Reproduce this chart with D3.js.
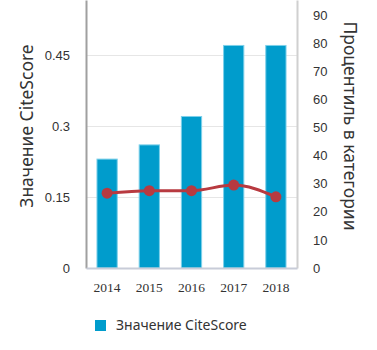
<!DOCTYPE html>
<html>
<head>
<meta charset="utf-8">
<script src="https://cdn.jsdelivr.net/npm/d3@7"></script>
<style>
  body { margin: 0; background: #fff; }
  svg { display: block; font-family: "Noto Sans", "Open Sans", sans-serif; }
</style>
</head>
<body>
<div id="chart"></div>
<script>
// данные графика
var years = ["2014", "2015", "2016", "2017", "2018"];
var citeScore = [0.23, 0.26, 0.32, 0.47, 0.47];
var percentile = [26.6, 27.5, 27.5, 29.5, 25.3];
var leftTicks = [0, 0.15, 0.3, 0.45];
var rightTicks = [0, 10, 20, 30, 40, 50, 60, 70, 80, 90];

var width = 377, height = 350;
var plot = { left: 86, right: 297, top: 0, bottom: 268 };

var svg = d3.select("#chart").append("svg")
    .attr("width", width)
    .attr("height", height);

var x = d3.scaleBand()
    .domain(years)
    .range([plot.left, plot.right])
    .paddingInner(0.52)
    .paddingOuter(0.26);

var yLeft = d3.scaleLinear().domain([0, 0.566]).range([plot.bottom, plot.top]);
var yRight = d3.scaleLinear().domain([0, 95.3]).range([plot.bottom, plot.top]);

// сетка
svg.append("g").selectAll("line")
    .data(leftTicks.filter(function (d) { return d > 0; }))
    .enter().append("line")
    .attr("x1", plot.left).attr("x2", plot.right)
    .attr("y1", function (d) { return Math.round(yLeft(d)) + 0.5; })
    .attr("y2", function (d) { return Math.round(yLeft(d)) + 0.5; })
    .attr("stroke", "#e6e6e6");

// столбцы
svg.append("g").selectAll("rect")
    .data(citeScore)
    .enter().append("rect")
    .attr("x", function (d, i) { return x(years[i]); })
    .attr("width", x.bandwidth())
    .attr("y", function (d) { return yLeft(d); })
    .attr("height", function (d) { return plot.bottom - yLeft(d); })
    .attr("fill", "#009ccc")
    .attr("stroke", "#7dd0ea")
    .attr("stroke-width", 1);

// оси
var leftAxis = svg.append("g")
    .attr("transform", "translate(" + plot.left + ",0)")
    .call(d3.axisLeft(yLeft).tickValues(leftTicks).tickSize(0).tickPadding(16)
        .tickFormat(function (d) { return d === 0 ? "0" : d3.format("")(d); }));
leftAxis.select(".domain").attr("stroke", "#a0a0a0").attr("stroke-width", 2);

var rightAxis = svg.append("g")
    .attr("transform", "translate(" + plot.right + ",0)")
    .call(d3.axisRight(yRight).tickValues(rightTicks).tickSize(0).tickPadding(16));
rightAxis.select(".domain").attr("stroke", "#d0d0d0").attr("stroke-width", 2);

var bottomAxis = svg.append("g")
    .attr("transform", "translate(0," + plot.bottom + ")")
    .call(d3.axisBottom(x).tickSize(0).tickPadding(14));
bottomAxis.select(".domain").attr("stroke", "#c8ccd8").attr("stroke-width", 2);

svg.selectAll(".tick text")
    .attr("fill", "#333")
    .style("font-size", "13px");
bottomAxis.selectAll("text")
    .style("font-family", "'Liberation Serif', 'DejaVu Serif', serif")
    .style("font-size", "13.5px");

// линия процентиля
var line = d3.line()
    .x(function (d, i) { return x(years[i]) + x.bandwidth() / 2; })
    .y(function (d) { return yRight(d); })
    .curve(d3.curveMonotoneX);

svg.append("path")
    .datum(percentile)
    .attr("d", line)
    .attr("fill", "none")
    .attr("stroke", "#b83a40")
    .attr("stroke-width", 3);

svg.append("g").selectAll("circle")
    .data(percentile)
    .enter().append("circle")
    .attr("cx", function (d, i) { return x(years[i]) + x.bandwidth() / 2; })
    .attr("cy", function (d) { return yRight(d); })
    .attr("r", 5.5)
    .attr("fill", "#b83a40");

// подписи осей
svg.append("text")
    .attr("transform", "translate(33,126) rotate(-90)")
    .attr("text-anchor", "middle")
    .attr("fill", "#333")
    .style("font-size", "17.5px")
    .text("Значение CiteScore");

svg.append("text")
    .attr("transform", "translate(344,126) rotate(90)")
    .attr("text-anchor", "middle")
    .attr("fill", "#333")
    .style("font-size", "17.5px")
    .text("Процентиль в категории");

// легенда
svg.append("rect")
    .attr("x", 95).attr("y", 320)
    .attr("width", 11).attr("height", 11)
    .attr("fill", "#009ccc");

svg.append("text")
    .attr("x", 116).attr("y", 330)
    .attr("fill", "#333")
    .style("font-size", "14px")
    .text("Значение CiteScore");
</script>
</body>
</html>
